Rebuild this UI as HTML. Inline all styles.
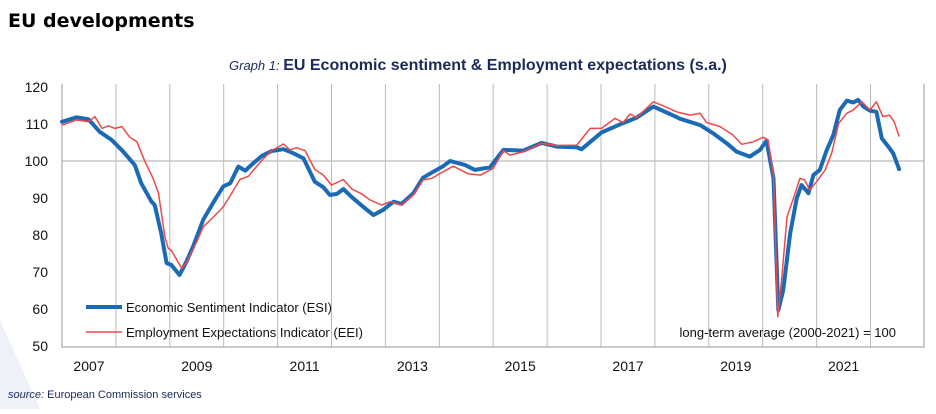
<!DOCTYPE html>
<html><head><meta charset="utf-8"><style>
body{margin:0;background:#fff;width:936px;height:409px;overflow:hidden;font-family:"Liberation Sans",sans-serif;}
</style></head><body>
<svg width="936" height="409" xmlns="http://www.w3.org/2000/svg">
<polygon points="0,320 40,409 0,409" fill="#eef1f8"/>
<text x="8" y="27" font-family="DejaVu Sans" font-weight="bold" font-size="19" fill="#000">EU developments</text>
<text x="229" y="70" font-size="13" font-style="italic" fill="#1a2a5a">Graph 1: <tspan font-weight="bold" font-style="normal" font-size="16">EU Economic sentiment &amp; Employment expectations (s.a.)</tspan></text>
<g id="grid"></g>
<g id="lines"></g>
<line x1="86" y1="307" x2="122" y2="307" stroke="#1a6ab5" stroke-width="4"/>
<text x="126" y="312" font-size="13" fill="#111">Economic Sentiment Indicator (ESI)</text>
<line x1="86" y1="332" x2="122" y2="332" stroke="#f04848" stroke-width="1.5"/>
<text x="126" y="337" font-size="13" fill="#111">Employment Expectations Indicator (EEI)</text>
<text x="896" y="337" text-anchor="end" font-size="13" fill="#111">long-term average (2000-2021)  = 100</text>
<text x="8" y="398" font-size="11" fill="#1a2a5a"><tspan font-style="italic">source:</tspan> European Commission  services</text>
</svg>
<script>
const yTicks=[50,60,70,80,90,100,110,120];
const years=[2007,2008,2009,2010,2011,2012,2013,2014,2015,2016,2017,2018,2019,2020,2021,2022];
const yearLabels=[2007,2009,2011,2013,2015,2017,2019,2021];
const esiT=[2007.0,2007.27,2007.49,2007.70,2007.92,2008.14,2008.35,2008.47,2008.66,2008.72,2008.84,2008.94,2009.03,2009.18,2009.31,2009.43,2009.62,2009.80,2009.99,2010.12,2010.27,2010.40,2010.55,2010.71,2010.89,2011.11,2011.29,2011.48,2011.69,2011.85,2011.97,2012.10,2012.22,2012.38,2012.59,2012.78,2012.96,2013.15,2013.30,2013.52,2013.70,2013.89,2014.07,2014.20,2014.48,2014.66,2014.94,2015.19,2015.56,2015.90,2016.18,2016.55,2016.64,2017.01,2017.35,2017.66,2017.97,2018.28,2018.47,2018.84,2019.08,2019.33,2019.52,2019.76,2019.95,2020.07,2020.20,2020.29,2020.38,2020.51,2020.63,2020.72,2020.85,2020.94,2021.06,2021.19,2021.31,2021.43,2021.56,2021.68,2021.77,2021.87,2021.99,2022.11,2022.21,2022.33,2022.42,2022.53];
const esiV=[110.6,111.8,111.3,107.9,105.7,102.5,98.9,94,89,88.1,80.5,72.4,71.9,69.2,72.8,76.8,84.1,88.6,93.1,94,98.5,97.4,99.4,101.4,102.7,103.2,102.1,100.7,94.4,92.9,90.8,91.1,92.4,90.2,87.6,85.4,86.8,89,88.4,91.3,95.5,97.1,98.6,100,98.9,97.6,98.3,103,102.8,104.9,103.9,103.7,103.2,107.7,109.9,111.7,114.7,112.7,111.4,109.7,107.5,104.8,102.5,101.2,103,105.5,95.3,59.7,65.1,80.5,89.9,93.5,91.3,96.2,97.6,103,107,113.8,116.3,115.8,116.5,114.7,113.6,113.3,106.1,103.9,102.1,97.8];
const eeiT=[2007.0,2007.27,2007.49,2007.61,2007.74,2007.86,2007.98,2008.11,2008.26,2008.39,2008.54,2008.69,2008.79,2008.91,2008.97,2009.03,2009.22,2009.31,2009.50,2009.62,2009.81,2009.99,2010.15,2010.30,2010.46,2010.58,2010.74,2010.89,2011.11,2011.23,2011.35,2011.51,2011.69,2011.85,2012.00,2012.22,2012.38,2012.56,2012.71,2012.93,2013.09,2013.30,2013.52,2013.70,2013.86,2014.07,2014.26,2014.54,2014.76,2015.0,2015.19,2015.31,2015.56,2015.90,2016.18,2016.55,2016.80,2017.01,2017.26,2017.41,2017.54,2017.66,2017.97,2018.16,2018.40,2018.65,2018.84,2018.96,2019.21,2019.45,2019.61,2019.82,2020.01,2020.10,2020.20,2020.28,2020.35,2020.45,2020.57,2020.69,2020.78,2020.87,2021.0,2021.16,2021.28,2021.41,2021.56,2021.68,2021.84,2021.99,2022.11,2022.23,2022.35,2022.44,2022.53];
const eeiV=[109.7,111.1,110.6,112,108.8,109.5,108.8,109.3,106.4,105.2,99.8,95.3,91.3,79.5,76.4,75.8,71,72.5,78.2,82.2,84.9,87.6,91.3,95,95.9,98,100.7,102.8,104.6,103,103.6,102.8,97.7,96.2,93.5,95,92.4,91.1,89.5,88.1,89,88.1,90.8,94.9,95.3,97.1,98.6,96.5,96.2,98,102.8,101.6,102.5,104.8,104.2,104.3,108.8,108.8,111.5,110.4,112.7,111.7,116,114.9,113.3,112.4,112.9,110.4,109.3,107,104.5,105.2,106.4,105.7,95.8,57.9,67.8,84.9,89.9,95.3,94.9,92.2,94.4,97.6,102.1,110.2,112.9,113.8,116,113.8,116,112,112.4,110.6,106.6];
const X0=62,XW=53.9,Y0=161,YK=3.7;
const xs=t=>X0+(t-2007)*XW;
const ys=v=>Y0-(v-100)*YK;
const NS='http://www.w3.org/2000/svg';
const grid=document.getElementById('grid'),lines=document.getElementById('lines');
function mk(tag,a,p){const e=document.createElementNS(NS,tag);for(const k in a)e.setAttribute(k,a[k]);p.appendChild(e);return e;}
years.forEach(y=>{if(y===2007)return;const l=mk('line',{x1:xs(y),x2:xs(y),y1:84,y2:347,stroke:'#bbb','stroke-width':1},grid);

});
const hl=mk('line',{x1:62,x2:924,y1:ys(100),y2:ys(100),stroke:'#bbb','stroke-width':1.2},grid);


const ax=mk('path',{d:'M62,84 V347 H924 V84',fill:'none',stroke:'#aaa','stroke-width':1.2},grid);


yTicks.forEach(v=>{const t=mk('text',{x:48,y:ys(v)+5,'text-anchor':'end','font-size':14,fill:'#111'},grid);t.textContent=v;

});
yearLabels.forEach(y=>{const t=mk('text',{x:xs(y)+27,y:371,'text-anchor':'middle','font-size':14,fill:'#111'},grid);t.textContent=y;

});
function path(T,V){return T.map((t,i)=>(i?'L':'M')+xs(t).toFixed(1)+','+ys(V[i]).toFixed(1)).join('');}
const esi=mk('path',{d:path(esiT,esiV),fill:'none',stroke:'#1a6ab5','stroke-width':4,'stroke-linejoin':'round','stroke-linecap':'round'},lines);


const eei=mk('path',{d:path(eeiT,eeiV),fill:'none',stroke:'#f04848','stroke-width':1.5,'stroke-linejoin':'round'},lines);


</script>
</body></html>
